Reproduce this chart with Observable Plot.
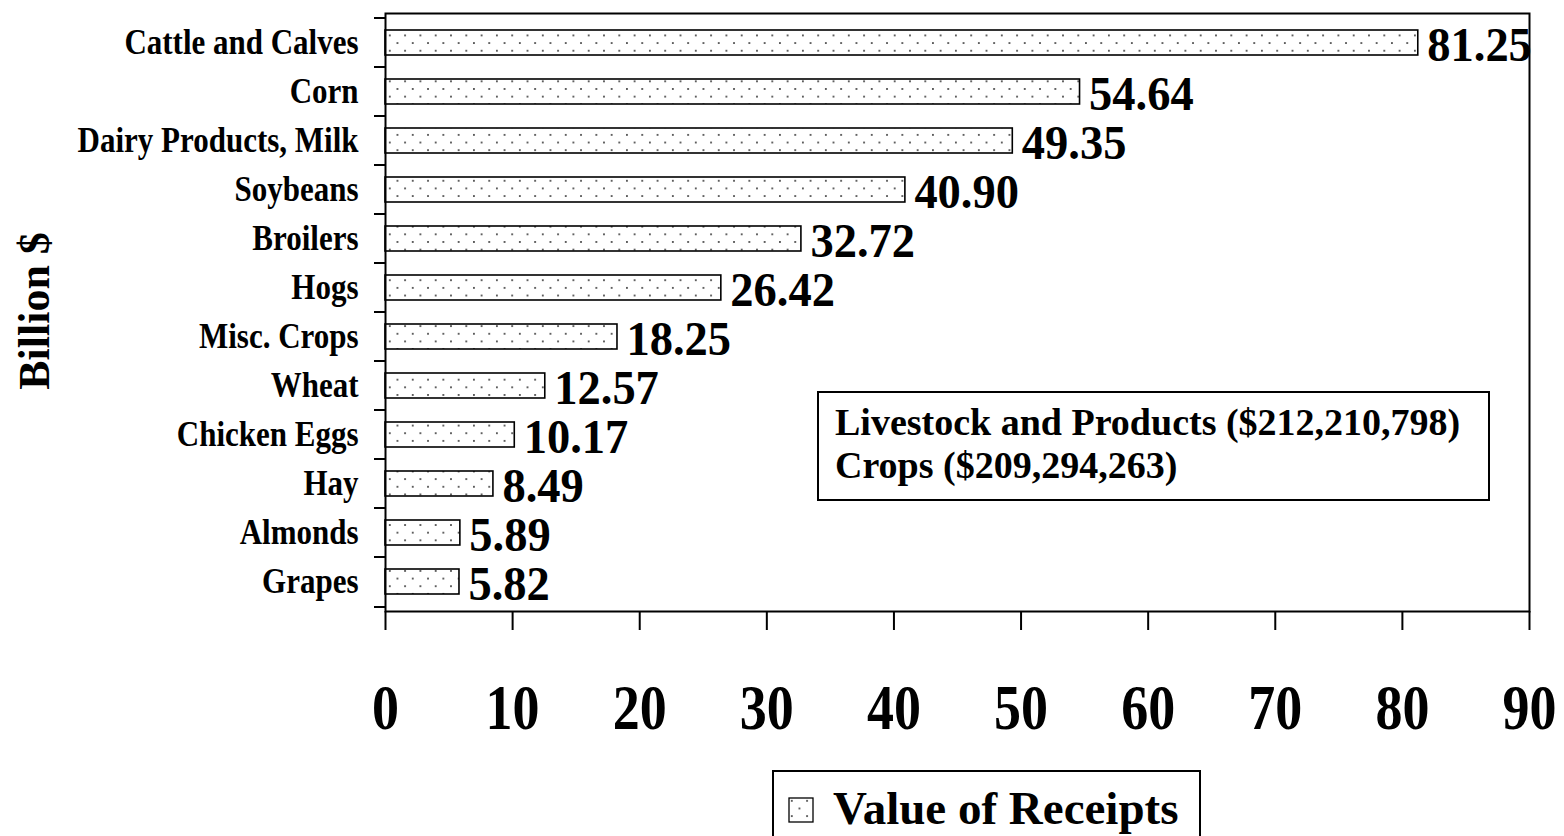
<!DOCTYPE html>
<html><head><meta charset="utf-8">
<script src="https://cdn.jsdelivr.net/npm/d3@7"></script>
<script src="https://cdn.jsdelivr.net/npm/@observablehq/plot@0.6"></script>
<style>
html,body{margin:0;padding:0;background:#fff;overflow:hidden}
#wrap{position:relative;width:1564px;height:836px;overflow:hidden;font-family:"Liberation Serif","Times New Roman",serif;font-weight:bold;color:#000}
#ylab{position:absolute;left:35px;top:311px;transform:translate(-50%,-50%) rotate(-90deg);font-size:44px;white-space:nowrap;line-height:1}
#note{position:absolute;left:817px;top:391px;width:669px;height:106px;border:2px solid #000;background:#fff;box-sizing:content-box;font-size:38px;line-height:43px;padding:0;}
#note div{position:absolute;left:16px;white-space:nowrap}
#legend{position:absolute;left:772px;top:770px;width:425px;height:90px;border:2px solid #000;background:#fff}
#legend svg{position:absolute;left:14px;top:25px}
#legend span{position:absolute;left:59px;top:13px;font-size:47px;line-height:47px;white-space:nowrap}
</style></head><body><div id="wrap"></div>
<script>
const categories = ["Cattle and Calves","Corn","Dairy Products, Milk","Soybeans","Broilers","Hogs","Misc. Crops","Wheat","Chicken Eggs","Hay","Almonds","Grapes"];
const values = [81.25,54.64,49.35,40.90,32.72,26.42,18.25,12.57,10.17,8.49,5.89,5.82];
const xTicks = [0,10,20,30,40,50,60,70,80,90];
const seriesName = "Value of Receipts";
const yLabel = "Billion $";
const noteLines = ["Livestock and Products ($212,210,798)","Crops ($209,294,263)"];

const data = categories.map((name, i) => ({name, value: values[i]}));

const plot = Plot.plot({
  width: 1564, height: 836,
  marginLeft: 385, marginRight: 35, marginTop: 13, marginBottom: 225,
  style: {fontFamily: '"Liberation Serif","Times New Roman",serif', fontWeight: "bold", background: "white", color: "black"},
  x: {domain: [0, 90], ticks: xTicks, label: null},
  y: {domain: categories, paddingInner: 0.48, paddingOuter: 0.24, label: null},
  marks: [
    Plot.barX(data, {x: "value", y: "name", fill: "url(#dots)", stroke: "black", strokeWidth: 1.6}),
    Plot.text(data, {x: "value", y: "name", text: d => d.value.toFixed(2), textAnchor: "start", dx: 9, dy: 2, fontSize: 46.5, fontWeight: "bold", fill: "black"}),
    Plot.frame({stroke: "black", strokeWidth: 2}),
    Plot.axisY({tickSize: 11, dy: -25, text: null, label: null, strokeWidth: 2}),
    Plot.axisY([categories[categories.length - 1]], {tickSize: 11, dy: 25, text: null, label: null, strokeWidth: 2}),
    Plot.axisY({tickSize: 0, tickPadding: 27, fontSize: 31, label: null}),
    Plot.axisX({ticks: xTicks, tickSize: 19, tickPadding: 53, fontSize: 54, label: null, strokeWidth: 2})
  ]
});

// dotted pattern
const defs = d3.select(plot).insert("defs", ":first-child");
function addPattern(defsSel, id, ox, oy) {
  const p = defsSel.append("pattern").attr("id", id).attr("patternUnits", "userSpaceOnUse")
    .attr("width", 15.3).attr("height", 15.3).attr("x", ox).attr("y", oy);
  p.append("rect").attr("width", 15.3).attr("height", 15.3).attr("fill", "white");
  p.append("circle").attr("cx", 3.8).attr("cy", 3.8).attr("r", 1).attr("fill", "#333");
  p.append("circle").attr("cx", 11.45).attr("cy", 11.45).attr("r", 1).attr("fill", "#333");
}
addPattern(defs, "dots", 386, 1);

// vertical stretch of glyphs (source rendering is taller than wide)
function stretch(sel, s) {
  d3.select(plot).selectAll(sel).selectAll("text").each(function() {
    const t = this.getAttribute("transform") || "";
    const x = +this.getAttribute("x") || 0, y = +this.getAttribute("y") || 0;
    this.setAttribute("transform", `${t} translate(${x},${y}) scale(1,${s}) translate(${-x},${-y})`);
  });
}
stretch('g[aria-label="x-axis tick label"]', 1.18);
stretch('g[aria-label="y-axis tick label"]', 1.13);
stretch('g[aria-label="text"]', 1.05);

const wrap = document.getElementById("wrap");
wrap.appendChild(plot);

const yl = document.createElement("div");
yl.id = "ylab"; yl.textContent = yLabel;
wrap.appendChild(yl);

const note = document.createElement("div");
note.id = "note";
noteLines.forEach((t, i) => {
  const d = document.createElement("div");
  d.textContent = t;
  d.style.top = (8 + i * 43) + "px";
  note.appendChild(d);
});
wrap.appendChild(note);

const leg = document.createElement("div");
leg.id = "legend";
const sw = d3.create("svg").attr("width", 26).attr("height", 26);
addPattern(sw.append("defs"), "dotsLeg", 0, 0);
sw.append("rect").attr("x", 1).attr("y", 1).attr("width", 24).attr("height", 24)
  .attr("fill", "url(#dotsLeg)").attr("stroke", "black").attr("stroke-width", 1.3);
leg.appendChild(sw.node());
const ls = document.createElement("span");
ls.textContent = seriesName;
leg.appendChild(ls);
wrap.appendChild(leg);
</script></body></html>
